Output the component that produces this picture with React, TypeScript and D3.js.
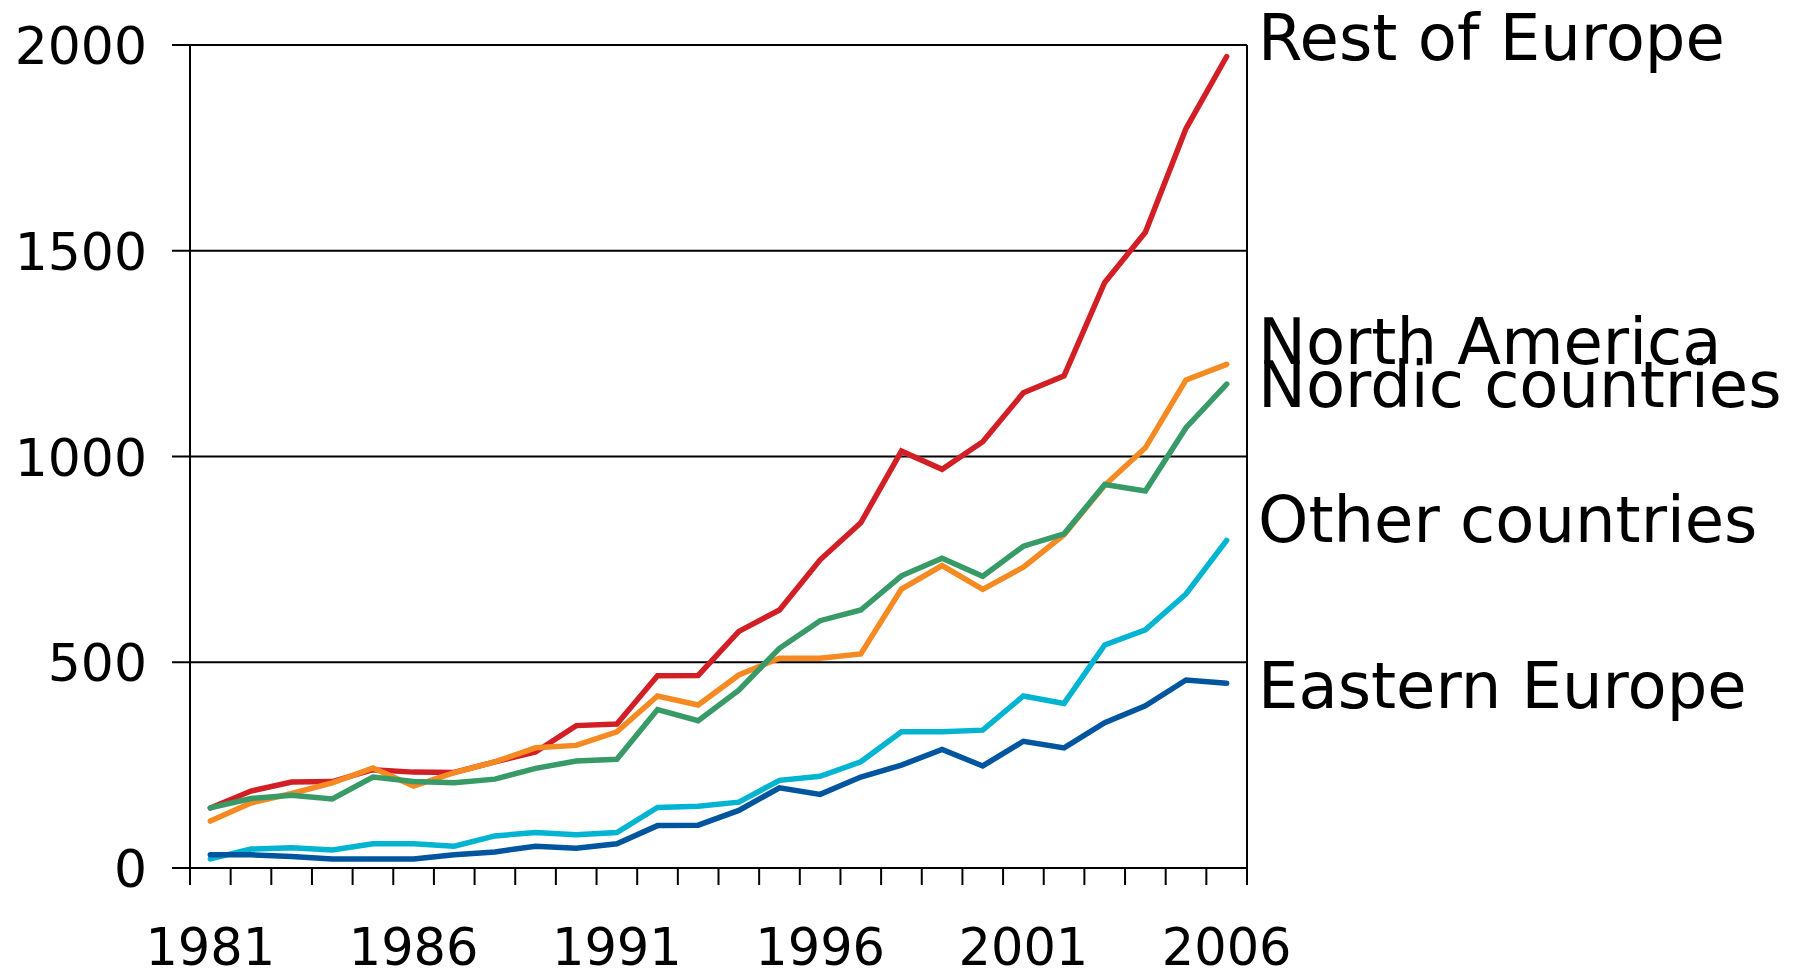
import { useEffect, useRef } from 'react';
import * as d3 from 'd3';

const years = [
  '1981', '1982', '1983', '1984', '1985', '1986', '1987', '1988', '1989', '1990',
  '1991', '1992', '1993', '1994', '1995', '1996', '1997', '1998', '1999', '2000',
  '2001', '2002', '2003', '2004', '2005', '2006',
];

const restOfEurope = [146, 187, 209, 210, 239, 233, 232, 258, 282, 346, 350, 467, 468, 575, 627, 749, 839, 1013, 969, 1036, 1155, 1196, 1423, 1545, 1797, 1972];
const northAmerica = [114, 158, 181, 207, 243, 199, 232, 258, 292, 298, 331, 418, 396, 469, 510, 510, 520, 678, 735, 677, 731, 810, 930, 1021, 1186, 1224];
const nordicCountries = [146, 169, 177, 168, 221, 210, 207, 216, 242, 260, 264, 385, 358, 432, 534, 601, 627, 710, 753, 709, 782, 812, 932, 916, 1070, 1176];
const otherCountries = [22, 46, 49, 44, 59, 59, 53, 78, 86, 81, 86, 147, 150, 160, 213, 223, 258, 331, 331, 335, 418, 400, 542, 579, 666, 796];
const easternEurope = [32, 32, 28, 22, 22, 22, 32, 39, 53, 48, 59, 103, 104, 140, 195, 179, 221, 250, 288, 248, 308, 292, 353, 394, 457, 449];

const seriesNames = ['Rest of Europe', 'North America', 'Nordic countries', 'Other countries', 'Eastern Europe'];
const yTicks = [0, 500, 1000, 1500, 2000];
const xTickLabels = ['1981', '1986', '1991', '1996', '2001', '2006'];

const WIDTH = 1798;
const HEIGHT = 972;

const Chart = () => {
  const svgRef = useRef(null);

  useEffect(() => {
    const svg = d3.select(svgRef.current);
    svg.selectAll('*').remove();

    const font = "'DejaVu Sans', Verdana, sans-serif";
    const left = 190;
    const right = 1247;
    const top = 45;
    const bottom = 868;

    const xScale = d3.scaleBand().domain(years).range([left, right]);
    const yScale = d3.scaleLinear().domain([0, 2000]).range([bottom, top]);
    const cx = (yr) => xScale(yr) + xScale.bandwidth() / 2;

    const series = [
      { name: seriesNames[0], values: restOfEurope, color: '#d21f26' },
      { name: seriesNames[1], values: northAmerica, color: '#f58a22' },
      { name: seriesNames[2], values: nordicCountries, color: '#389b67' },
      { name: seriesNames[3], values: otherCountries, color: '#00b4d2' },
      { name: seriesNames[4], values: easternEurope, color: '#00559f' },
    ];
    // label baseline nudges from the line end
    const labelDy = [3, 0, 23, 2, 25];

    // Gridlines + left ticks
    svg.append('g')
      .selectAll('line')
      .data(yTicks)
      .enter()
      .append('line')
      .attr('x1', left - 18)
      .attr('x2', right)
      .attr('y1', d => yScale(d))
      .attr('y2', d => yScale(d))
      .attr('stroke', '#000')
      .attr('stroke-width', 2);

    // Y labels
    svg.append('g')
      .selectAll('text')
      .data(yTicks)
      .enter()
      .append('text')
      .attr('x', 147)
      .attr('y', d => yScale(d) + 19)
      .attr('text-anchor', 'end')
      .style('font-family', font)
      .style('font-size', '52px')
      .style('fill', '#000')
      .text(d => d);

    // Left axis and right border
    svg.append('line')
      .attr('x1', left).attr('x2', left)
      .attr('y1', top).attr('y2', bottom + 17)
      .attr('stroke', '#000').attr('stroke-width', 2);
    svg.append('line')
      .attr('x1', right).attr('x2', right)
      .attr('y1', top).attr('y2', bottom + 17)
      .attr('stroke', '#000').attr('stroke-width', 2);

    // Bottom ticks at band boundaries
    svg.append('g')
      .selectAll('line')
      .data(years)
      .enter()
      .append('line')
      .attr('x1', d => xScale(d))
      .attr('x2', d => xScale(d))
      .attr('y1', bottom)
      .attr('y2', bottom + 17)
      .attr('stroke', '#000')
      .attr('stroke-width', 2);

    // X labels
    svg.append('g')
      .selectAll('text')
      .data(xTickLabels)
      .enter()
      .append('text')
      .attr('x', d => cx(d))
      .attr('y', 965)
      .attr('text-anchor', 'middle')
      .style('font-family', font)
      .style('font-size', '51px')
      .style('fill', '#000')
      .text(d => d);

    // Lines
    const line = d3.line()
      .x((d, i) => cx(years[i]))
      .y(d => yScale(d));

    svg.append('g')
      .selectAll('path')
      .data(series)
      .enter()
      .append('path')
      .attr('d', d => line(d.values))
      .attr('fill', 'none')
      .attr('stroke', d => d.color)
      .attr('stroke-width', 5.5)
      .attr('stroke-linecap', 'round')
      .attr('stroke-linejoin', 'miter');

    // Series labels
    svg.append('g')
      .selectAll('text')
      .data(series)
      .enter()
      .append('text')
      .attr('x', 1258)
      .attr('y', (d, i) => yScale(d.values[d.values.length - 1]) + labelDy[i])
      .style('font-family', font)
      .style('font-size', '64px')
      .style('fill', '#000')
      .text(d => d.name);
  }, []);

  return (
    <svg
      ref={svgRef}
      width={WIDTH}
      height={HEIGHT}
      style={{ position: 'absolute', left: 0, top: 0, background: '#fff' }}
    />
  );
};

export default function App() {
  return <Chart />;
}
